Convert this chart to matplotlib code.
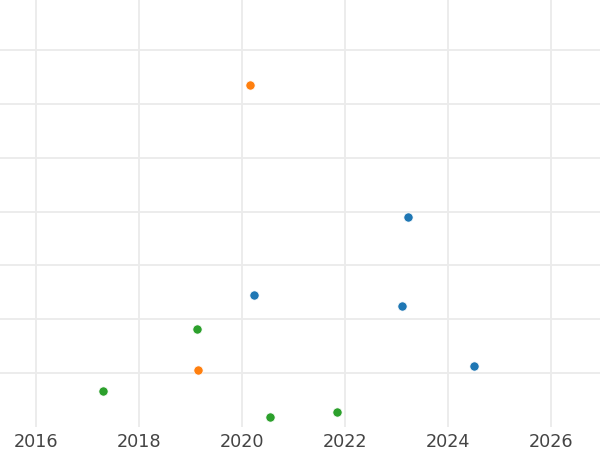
import matplotlib
matplotlib.use("Agg")
import matplotlib.pyplot as plt

blue_x = [2023.22, 2020.23, 2023.11, 2024.50]
blue_y = [39.0, 24.5, 22.45, 11.3]
orange_x = [2020.16, 2019.15]
orange_y = [63.5, 10.6]
green_x = [2019.13, 2017.30, 2020.54, 2021.84]
green_y = [18.2, 6.65, 1.8, 2.75]

xticks = [2016, 2018, 2020, 2022, 2024, 2026]
yticks = [10, 20, 30, 40, 50, 60, 70]

fig = plt.figure(figsize=(6, 4.5), dpi=100)
ax = fig.add_axes([0, 1 - 427/450, 1, 427/450])

for xs, ys, c in [(blue_x, blue_y, "#1f77b4"), (orange_x, orange_y, "#ff7f0e"), (green_x, green_y, "#2ca02c")]:
    ax.scatter(xs, ys, s=44, color=c, edgecolor="white", linewidth=0.5, zorder=3)

ax.set_xlim(2015.30, 2026.95)
ax.set_ylim(0, 79.3)
ax.set_xticks(xticks)
ax.set_xticklabels([str(t) for t in xticks])
ax.set_yticks(yticks)
ax.set_yticklabels([])
ax.grid(True, color="#ebebeb", linewidth=1.3, zorder=0)
ax.set_axisbelow(True)
for s in ax.spines.values():
    s.set_visible(False)
ax.tick_params(axis="both", length=0)
ax.tick_params(axis="x", labelsize=12.7, labelcolor="#444444", pad=4)

fig.savefig("out.png", dpi=100)
